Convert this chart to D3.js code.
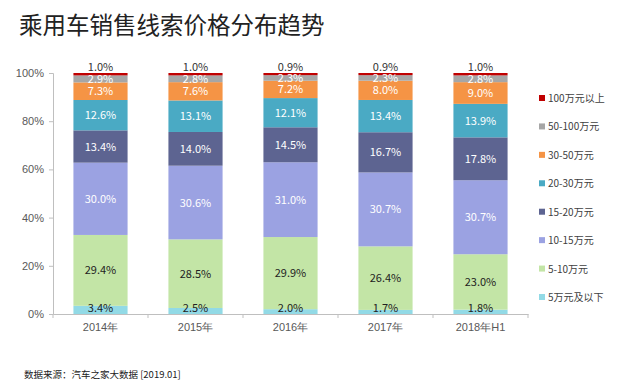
<!DOCTYPE html>
<html>
<head>
<meta charset="utf-8">
<script src="https://cdn.jsdelivr.net/npm/d3@7"></script>
<style>
  body { margin: 0; background: #fff; }
  svg { font-family: "Noto Sans CJK SC", "Noto Sans", sans-serif; }
</style>
</head>
<body>
<svg id="chart" width="620" height="387"></svg>
<script>
const years = ["2014年", "2015年", "2016年", "2017年", "2018年H1"];
const bands = ["5万元及以下", "5-10万元", "10-15万元", "15-20万元", "20-30万元", "30-50万元", "50-100万元", "100万元以上"];
const colors = ["#92dae6", "#c3e5a6", "#9ba2e2", "#5d6491", "#4aaac4", "#f59445", "#a6a6a6", "#c00000"];
const yTicks = [0, 0.2, 0.4, 0.6, 0.8, 1];

// share per price band, one array per year (bottom -> top)
const v2014 = [3.4, 29.4, 30.0, 13.4, 12.6, 7.3, 2.9, 1.0];
const v2015 = [2.5, 28.5, 30.6, 14.0, 13.1, 7.6, 2.8, 1.0];
const v2016 = [2.0, 29.9, 31.0, 14.5, 12.1, 7.2, 2.3, 0.9];
const v2017 = [1.7, 26.4, 30.7, 16.7, 13.4, 8.0, 2.3, 0.9];
const v2018 = [1.8, 23.0, 30.7, 17.8, 13.9, 9.0, 2.8, 1.0];

const rows = [v2014, v2015, v2016, v2017, v2018].map((vals, i) => {
  const r = { year: years[i] };
  bands.forEach((b, j) => r[b] = vals[j]);
  return r;
});

const svg = d3.select("#chart");

svg.append("text")
  .attr("x", 19).attr("y", 34)
  .attr("font-size", 23.5).attr("fill", "#222")
  .text("乘用车销售线索价格分布趋势");

const x = d3.scaleBand().domain(years).range([53, 528]).paddingInner(0.43).paddingOuter(0.215);
const y = d3.scaleLinear().domain([0, 1]).range([314, 73]);

const series = d3.stack().keys(bands).offset(d3.stackOffsetExpand)(rows);

// y axis
const yAxis = svg.append("g").attr("transform", "translate(53,0)")
  .call(d3.axisLeft(y).tickValues(yTicks).tickFormat(d3.format(".0%")).tickSize(4).tickPadding(5));
yAxis.select(".domain").attr("stroke", "#bfbfbf");
yAxis.selectAll(".tick line").attr("stroke", "#bfbfbf");
yAxis.selectAll("text").attr("font-size", 11).attr("fill", "#595959").attr("font-family", "inherit");

// bars
const layer = svg.append("g").selectAll("g").data(series).join("g")
  .attr("fill", (d, i) => colors[i]);
layer.selectAll("rect").data(d => d).join("rect")
  .attr("x", d => x(d.data.year))
  .attr("y", d => y(d[1]))
  .attr("width", x.bandwidth())
  .attr("height", d => y(d[0]) - y(d[1]));

// labels
const lbl = svg.append("g").attr("font-size", 11).attr("text-anchor", "middle");
series.forEach((s, i) => {
  const key = s.key;
  s.forEach(d => {
    const val = d.data[key];
    let cy = (y(d[0]) + y(d[1])) / 2 + 4;
    let fill = "#fff";
    if (i === 0) { cy = y(d[0]) - 2; fill = "#222"; }
    if (i === 1) fill = "#222";
    if (i === 7) { cy = y(d[1]) - 2.5; fill = "#333"; }
    lbl.append("text")
      .attr("x", x(d.data.year) + x.bandwidth() / 2)
      .attr("y", cy)
      .attr("fill", fill)
      .text(val.toFixed(1) + "%");
  });
});

// x axis
const xAxis = svg.append("g").attr("transform", "translate(0,314)")
  .call(d3.axisBottom(x).tickSize(0).tickPadding(9));
xAxis.select(".domain").attr("stroke", "#bfbfbf");
xAxis.selectAll("text").attr("font-size", 11).attr("fill", "#595959").attr("font-family", "inherit");
const edges = years.map(yr => x(yr) - x.step() * x.paddingInner() / 2).concat([528]);
xAxis.selectAll(".edge").data(edges).join("line")
  .attr("x1", d => d).attr("x2", d => d).attr("y1", 0).attr("y2", 4)
  .attr("stroke", "#bfbfbf");

// legend
const legend = svg.append("g").attr("font-size", 10).attr("fill", "#404040");
const ly = d3.scalePoint().domain(bands.slice().reverse()).range([99, 298]);
bands.forEach((b, i) => {
  const g = legend.append("g").attr("transform", `translate(539,${ly(b)})`);
  g.append("rect").attr("x", 0).attr("y", -4).attr("width", 6).attr("height", 6).attr("fill", colors[i]);
  g.append("text").attr("x", 9).attr("y", 3).attr("fill", "#404040").text(b);
});

svg.append("text")
  .attr("x", 24).attr("y", 378)
  .attr("font-size", 9.5).attr("fill", "#222")
  .text("数据来源：汽车之家大数据 [2019.01]");
</script>
</body>
</html>
